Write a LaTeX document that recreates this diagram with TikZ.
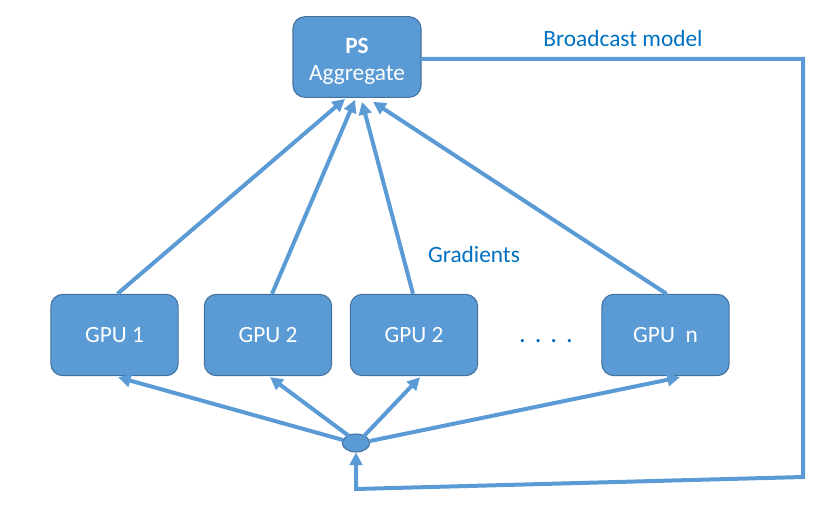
\documentclass[tikz,border=0pt]{standalone}
\usepackage{fontspec}
\setmainfont{Carlito}
\usetikzlibrary{arrows.meta,calc,shapes.geometric}
\definecolor{boxblue}{HTML}{5B9BD5}
\definecolor{boxedge}{HTML}{41719C}
\definecolor{txtblue}{RGB}{0,112,192}
\tikzset{
  gbox/.style={draw=boxedge,line width=0.8pt,fill=boxblue,rounded corners=9pt,
    minimum width=95.5pt,minimum height=61pt,inner sep=0pt,text=white,
    font=\fontsize{17.5}{20.5}\selectfont,align=center},
  conn/.style={draw=boxblue,line width=3pt,-{Triangle[length=9.5pt,width=9.5pt]}},
  lbl/.style={text=txtblue,font=\fontsize{17.5}{20}\selectfont,inner sep=0pt}
}
\begin{document}
\begin{tikzpicture}[x=0.75pt,y=-0.75pt]
\useasboundingbox (0,0) rectangle (830,516);
\node[gbox,minimum width=96pt,minimum height=60.5pt] (ps) at (357,57) {\rule{0pt}{18pt}\textbf{PS}\\Aggregate};
\node[gbox] (g1) at (114.5,335) {GPU 1};
\node[gbox] (g2) at (268,335) {GPU 2};
\node[gbox] (g3) at (414,335) {GPU 2};
\node[gbox] (gn) at (665.5,335) {GPU\ \ n};
\node[draw=boxedge,line width=0.8pt,fill=boxblue,ellipse,minimum width=20.5pt,minimum height=13.5pt,inner sep=0pt] (e) at (356,443) {};
\node[lbl] (bm) at (623,38) {Broadcast model};
\node[lbl] (gr) at (474,254) {Gradients};
\node[text=txtblue,font=\fontsize{20}{24}\selectfont,inner sep=0pt] (dots) at (546,341) {.\,\,.\,\,.\,\,.};
% gradients up
\draw[conn] ($(g1.north)+(3,0)$) -- ($(ps.south)+(-12,1)$);
\draw[conn] ($(g2.north)+(4,0)$) -- ($(ps.south)+(-2,2)$);
\draw[conn] ($(g3.north)+(-1,0)$) -- ($(ps.south)+(5,4)$);
\draw[conn] ($(gn.north)+(1,0)$) -- ($(ps.south)+(16,4)$);
% broadcast down
\draw[conn] ($(e.center)+(-13,-3)$) -- ($(g1.south)+(3.5,1)$);
\draw[conn] ($(e.center)+(-7,-7)$) -- ($(g2.south)+(2,1)$);
\draw[conn] ($(e.center)+(8,-7)$) -- ($(g3.south)+(6,1)$);
\draw[conn] ($(e.center)+(14,-2)$) -- ($(gn.south)+(14.5,1)$);
% feedback loop
\coordinate (c1) at (803,59);
\coordinate (c2) at (803,477);
\coordinate (c3) at (356,489);
\draw[conn,line join=miter] (ps.east|-c1) -- (c1) -- (c2) -- (c3) -- (e.south);
\end{tikzpicture}
\end{document}
